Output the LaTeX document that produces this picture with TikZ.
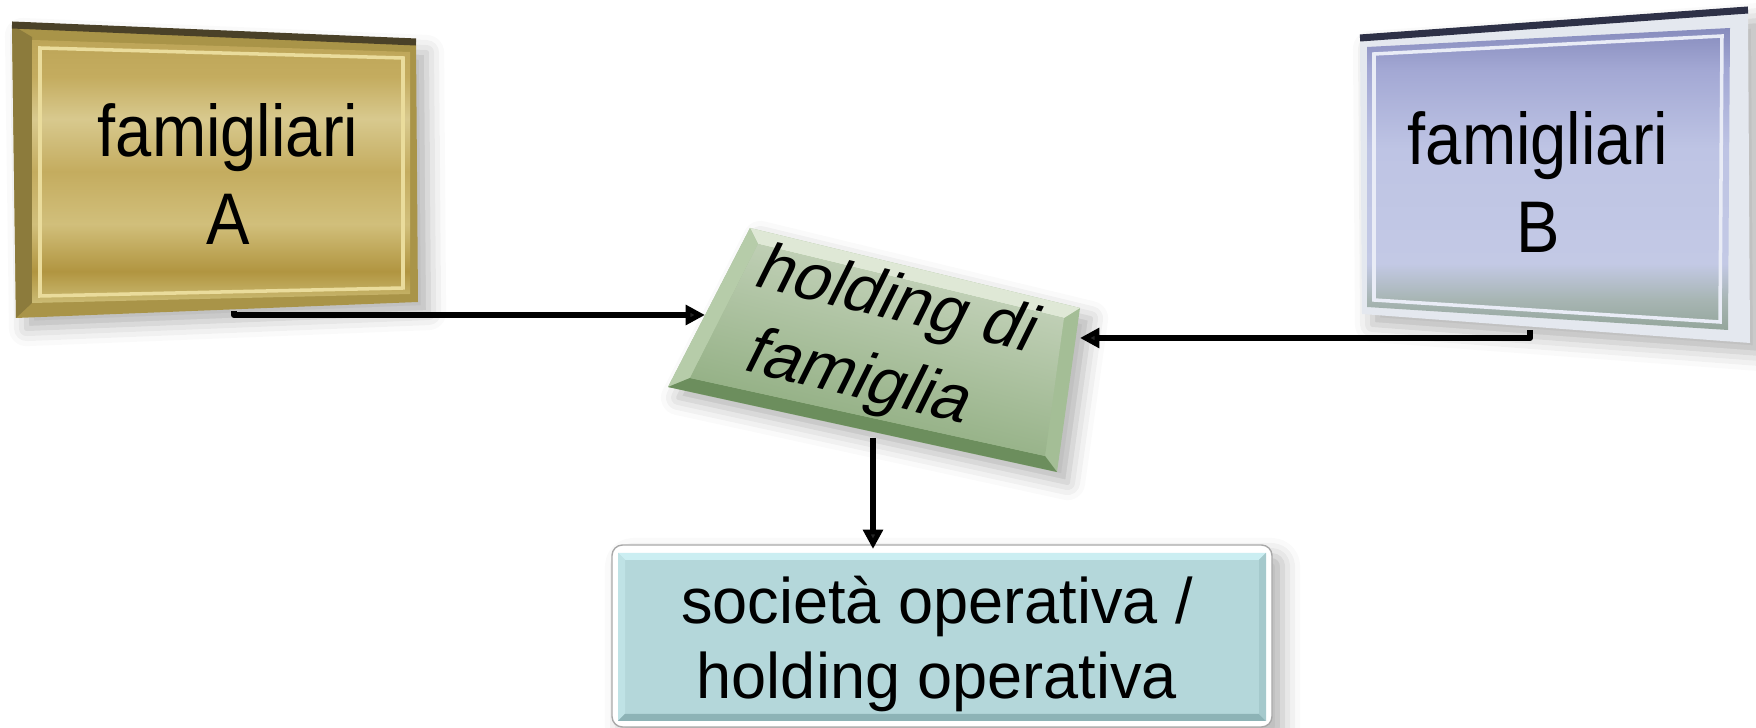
\documentclass[tikz,border=0pt]{standalone}
\usepackage{fontspec}
\setmainfont{Liberation Sans}
\usepackage{xcolor}
\usetikzlibrary{arrows.meta,shadows.blur}

\definecolor{goldFrame}{HTML}{A99448}
\definecolor{goldSide}{HTML}{8C7B3C}
\definecolor{goldEdge}{HTML}{4A4128}
\definecolor{goldLine}{HTML}{EADC9C}
\definecolor{goldTop}{HTML}{BDA558}
\definecolor{goldHi}{HTML}{D8C98E}
\definecolor{goldMid}{HTML}{C4AC5F}
\definecolor{goldHiB}{HTML}{D1BF7B}
\definecolor{goldLow}{HTML}{B19540}
\definecolor{goldBot}{HTML}{CBBB74}
\definecolor{lavTop}{HTML}{878CBD}
\definecolor{lavUp}{HTML}{A3A8D4}
\definecolor{lavMid}{HTML}{BEC4E4}
\definecolor{lavLow}{HTML}{C3C9E5}
\definecolor{lavGreen}{HTML}{A7B5B3}
\definecolor{lavBot}{HTML}{94A69B}
\definecolor{lavFrame}{HTML}{E4E8EF}
\definecolor{lavEdge}{HTML}{2E3147}
\definecolor{lavLine}{HTML}{E9ECF6}
\definecolor{greenTop}{HTML}{CCD8C3}
\definecolor{greenMid}{HTML}{AEC4A1}
\definecolor{greenBot}{HTML}{88A878}
\definecolor{greenLight}{HTML}{DFE8D6}
\definecolor{greenLeft}{HTML}{B6CCA9}
\definecolor{greenDark}{HTML}{6C8E5D}
\definecolor{greenRight}{HTML}{A4BE96}
\definecolor{tealFace}{HTML}{B4D7DA}
\definecolor{tealTop}{HTML}{CBEEF2}
\definecolor{tealLeft}{HTML}{BFE2E5}
\definecolor{tealBot}{HTML}{8DB3B6}
\definecolor{tealRight}{HTML}{A5C9CC}
\definecolor{operFrame}{HTML}{A8A8A8}

\pgfdeclareverticalshading{goldface}{100bp}{color(0bp)=(goldBot); color(25bp)=(goldBot); color(31bp)=(goldLow); color(40bp)=(goldHiB); color(50bp)=(goldMid); color(60bp)=(goldHi); color(68bp)=(goldMid); color(75bp)=(goldTop); color(100bp)=(goldTop)}
\pgfdeclareverticalshading{lavface}{100bp}{color(0bp)=(lavBot); color(25bp)=(lavBot); color(30bp)=(lavGreen); color(36bp)=(lavLow); color(55bp)=(lavMid); color(68bp)=(lavUp); color(75bp)=(lavTop); color(100bp)=(lavTop)}

\tikzset{
  link/.style={-{Triangle[length=5.5pt,width=5.5pt]}, line width=1.7pt, line join=round},
  boxshadow/.style={blur shadow={shadow xshift=3pt, shadow yshift=-3pt, shadow blur radius=5pt, shadow opacity=30}},
  famtext/.style={font=\fontsize{20.8}{25}\selectfont, align=center, inner sep=0pt, xscale=.89, transform shape},
  holdtext/.style={font=\fontsize{18.8}{24}\selectfont, align=center, inner sep=0pt, rotate=-13.5, xslant=.23, transform shape},
  opertext/.style={font=\fontsize{18.3}{21.6}\selectfont, align=center, inner sep=0pt, xscale=.98, transform shape}
}

\begin{document}
\begin{tikzpicture}[x=0.01cm, y=-0.01cm]
  \useasboundingbox (0,0) rectangle (1756,728);

  % famigliari A
  \fill[goldFrame, boxshadow] (12,25) -- (416,42) -- (418,302) -- (16,318) -- cycle;
  \fill[goldSide] (12,25) -- (32,37) -- (32,303) -- (16,318) -- cycle;
  \shade[shading=goldface] (32,40) -- (410,52) -- (410,294) -- (32,303) -- cycle;
  \draw[goldLine, line width=1pt] (40,48) -- (403,58) -- (403,288) -- (40,296) -- cycle;
  \draw[goldEdge, line width=2pt] (12,25) -- (416,42);
  \node[famtext] (famA) at (228,174) {famigliari\\A};

  % famigliari B
  \fill[lavFrame, boxshadow] (1360,38) -- (1748,10) -- (1750,343) -- (1362,314) -- cycle;
  \shade[shading=lavface] (1367,47) -- (1730,28) -- (1728,330) -- (1367,307) -- cycle;
  \draw[lavLine, line width=1pt] (1374,54) -- (1722,36) -- (1720,322) -- (1374,300) -- cycle;
  \draw[lavEdge, line width=2pt] (1360,38) -- (1748,10);
  \node[famtext] (famB) at (1538,182) {famigliari\\B};

  % holding di famiglia
  \fill[greenRight, boxshadow] (750,228) -- (1080,308) -- (1057,472) -- (668,387) -- cycle;
  \fill[greenLight] (750,228) -- (1080,308) -- (1064,318) -- (758,244) -- cycle;
  \fill[greenLeft] (750,228) -- (758,244) -- (690,378) -- (668,387) -- cycle;
  \fill[greenDark] (668,387) -- (690,378) -- (1045,456) -- (1057,472) -- cycle;
  \shade[top color=greenTop, middle color=greenMid, bottom color=greenBot, shading angle=-14]
    (758,244) -- (1064,318) -- (1045,456) -- (690,378) -- cycle;
  \node[holdtext] (holding) at (878,342) {holding di\\famiglia};

  % società operativa
  \draw[operFrame, fill=white, rounded corners=3pt, boxshadow] (612,545) rectangle (1272,727);
  \fill[tealFace] (618,553) rectangle (1266,721);
  \fill[tealTop] (618,553) -- (1266,553) -- (1259,560) -- (625,560) -- cycle;
  \fill[tealLeft] (618,553) -- (625,560) -- (625,714) -- (618,721) -- cycle;
  \fill[tealBot] (618,721) -- (625,714) -- (1259,714) -- (1266,721) -- cycle;
  \fill[tealRight] (1266,553) -- (1259,560) -- (1259,714) -- (1266,721) -- cycle;
  \node[opertext] (oper) at (937,644) {società operativa /\\holding operativa};

  \coordinate (famA-out) at (234,311);
  \coordinate (hold-w) at (705,315);
  \coordinate (famB-out) at (1530,330);
  \coordinate (hold-e) at (1080,338);
  \coordinate (hold-s) at (873,438);
  \coordinate (oper-n) at (873,549);

  \draw[link] (famA-out) |- (hold-w);
  \draw[link] (famB-out) |- (hold-e);
  \draw[link] (hold-s) -- (oper-n);
\end{tikzpicture}
\end{document}
